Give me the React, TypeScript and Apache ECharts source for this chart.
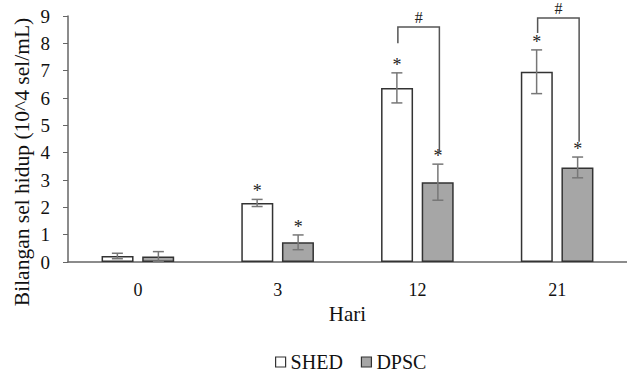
import React, { useEffect, useRef } from "react";
import * as echarts from "echarts";

const categories = ["0", "3", "12", "21"];
const shedValues = [0.22, 2.16, 6.37, 6.96];
const shedErrors = [0.1, 0.13, 0.55, 0.8];
const shedSignificant = [0, 1, 1, 1];
const dpscValues = [0.2, 0.72, 2.92, 3.46];
const dpscErrors = [0.18, 0.27, 0.66, 0.38];
const dpscSignificant = [0, 1, 1, 1];
const bracketCategories = [2, 3];
const bracketLeftBottom = [8.0, 8.38];
const bracketTop = [8.6, 8.93];
const bracketRightBottom = [4.0, 4.4];
const yTicks = [0, 1, 2, 3, 4, 5, 6, 7, 8, 9];
const yTitle = "Bilangan sel hidup (10^4 sel/mL)";

const FONT = "'Liberation Serif', 'Times New Roman', Times, serif";
const OFFSET = 20.5;

export default function App() {
  const ref = useRef<HTMLDivElement>(null);
  useEffect(() => {
    if (!ref.current) return;
    document.body.style.margin = "0";
    const chart = echarts.init(ref.current, undefined, { renderer: "svg" });
    const errData: number[][] = [];
    categories.forEach((_, i) => {
      errData.push([i, shedValues[i], shedErrors[i], -1, shedSignificant[i]]);
      errData.push([i, dpscValues[i], dpscErrors[i], 1, dpscSignificant[i]]);
    });
    const bracketData = bracketCategories.map((c, i) => [
      c,
      bracketLeftBottom[i],
      bracketTop[i],
      bracketRightBottom[i],
    ]);
    chart.setOption({
      animation: false,
      textStyle: { fontFamily: FONT },
      grid: { left: 68, top: 16, width: 569, bottom: 110, containLabel: false },
      graphic: [
        {
          type: "text",
          x: 22,
          y: 162,
          rotation: Math.PI / 2,
          style: {
            text: yTitle,
            align: "center",
            verticalAlign: "middle",
            fontFamily: FONT,
            fontSize: 21.5,
            fill: "#111",
          },
        },
      ],
      legend: {
        top: 347,
        left: 270,
        padding: 5,
        itemWidth: 10,
        itemHeight: 10,
        itemGap: 18,
        icon: "rect",
        textStyle: { fontFamily: FONT, fontSize: 20, color: "#111" },
        data: [
          { name: "SHED", itemStyle: { color: "#fff", borderColor: "#333", borderWidth: 1.2 } },
          { name: "DPSC", itemStyle: { color: "#a6a6a6", borderColor: "#333", borderWidth: 1.2 } },
        ],
      },
      xAxis: {
        type: "category",
        data: categories,
        name: "Hari",
        nameLocation: "middle",
        nameGap: 40,
        nameTextStyle: { fontFamily: FONT, fontSize: 21, color: "#111" },
        axisLine: { lineStyle: { color: "#666", width: 1.5 } },
        axisTick: { show: false },
        axisLabel: { fontFamily: FONT, fontSize: 18, color: "#111", margin: 19 },
      },
      yAxis: {
        type: "value",
        min: yTicks[0],
        max: yTicks[yTicks.length - 1],
        interval: 1,
        axisLine: { show: true, lineStyle: { color: "#666", width: 1.5 } },
        axisTick: { show: true, length: 5, lineStyle: { color: "#666" } },
        splitLine: { show: false },
        axisLabel: { fontFamily: FONT, fontSize: 19, color: "#111", margin: 18 },
      },
      series: [
        {
          name: "SHED",
          type: "bar",
          data: shedValues,
          barWidth: 32,
          barGap: "27%",
          itemStyle: { color: "#ffffff", borderColor: "#333", borderWidth: 1.5 },
        },
        {
          name: "DPSC",
          type: "bar",
          data: dpscValues,
          barWidth: 32,
          barGap: "27%",
          itemStyle: { color: "#a6a6a6", borderColor: "#333", borderWidth: 1.5 },
        },
        {
          type: "custom",
          data: errData,
          z: 10,
          silent: true,
          clip: false,
          renderItem: (params: any, api: any) => {
            const x = api.value(0);
            const v = api.value(1);
            const e = api.value(2);
            const side = api.value(3);
            const sig = api.value(4);
            const top = api.coord([x, v + e]);
            const bot = api.coord([x, v - e]);
            const cx = top[0] + side * OFFSET;
            const st = { stroke: "#777", lineWidth: 1.5 };
            const children: any[] = [
              { type: "line", shape: { x1: cx, y1: top[1], x2: cx, y2: bot[1] }, style: st },
              { type: "line", shape: { x1: cx - 5.5, y1: top[1], x2: cx + 5.5, y2: top[1] }, style: st },
              { type: "line", shape: { x1: cx - 5.5, y1: bot[1], x2: cx + 5.5, y2: bot[1] }, style: st },
            ];
            if (sig) {
              children.push({
                type: "text",
                style: {
                  text: "*",
                  x: cx,
                  y: top[1] + 1,
                  align: "center",
                  verticalAlign: "bottom",
                  fontFamily: FONT,
                  fontSize: 18,
                  fill: "#222",
                },
              });
            }
            return { type: "group", children };
          },
        },
        {
          type: "custom",
          data: bracketData,
          z: 10,
          silent: true,
          clip: false,
          renderItem: (params: any, api: any) => {
            const c = api.value(0);
            const lb = api.coord([c, api.value(1)]);
            const tp = api.coord([c, api.value(2)]);
            const rb = api.coord([c, api.value(3)]);
            const lx = lb[0] - 19.5;
            const rx = lb[0] + 22;
            return {
              type: "group",
              children: [
                {
                  type: "polyline",
                  shape: { points: [[lx, lb[1]], [lx, tp[1]], [rx, tp[1]], [rx, rb[1]]] },
                  style: { stroke: "#555", lineWidth: 1.5, fill: null },
                },
                {
                  type: "text",
                  style: {
                    text: "#",
                    x: (lx + rx) / 2,
                    y: tp[1] - 1,
                    align: "center",
                    verticalAlign: "bottom",
                    fontFamily: FONT,
                    fontSize: 16,
                    fill: "#222",
                  },
                },
              ],
            };
          },
        },
      ],
    });
    return () => chart.dispose();
  }, []);
  return <div ref={ref} style={{ width: 627, height: 372 }} />;
}
